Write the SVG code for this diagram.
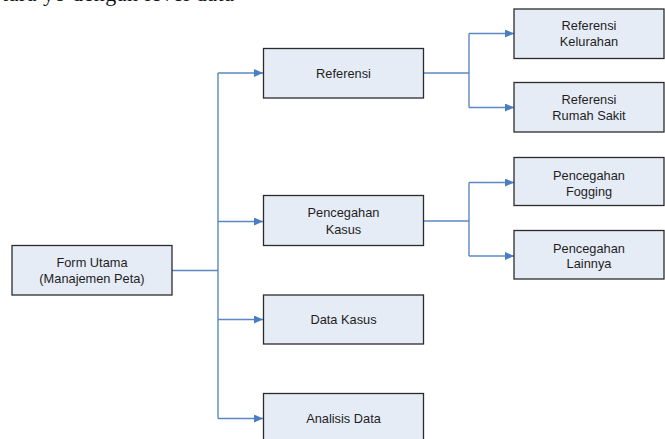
<svg xmlns="http://www.w3.org/2000/svg" width="665" height="439" viewBox="0 0 665 439">
  <defs>
    <marker id="arr" markerWidth="9" markerHeight="8" refX="9" refY="4" orient="auto" markerUnits="userSpaceOnUse">
      <path d="M0,0 L9,4 L0,8 Z" fill="#4A7EC2"/>
    </marker>
    <style>
      .box { fill: #E6ECF6; stroke: #2B2B2B; stroke-width: 1.3; }
      .lbl { font-family: "Liberation Sans", Arial, sans-serif; font-size: 12.8px; fill: #1E1E1E; text-anchor: middle; }
      .con { fill: none; stroke: #5B88C4; stroke-width: 1.4; }
      .top { font-family: "Liberation Serif", "Times New Roman", serif; font-size: 22px; fill: #111; }
    </style>
  </defs>
  <rect width="665" height="439" fill="#FFFFFF"/>
  <text class="top" x="2" y="1" textLength="232" lengthAdjust="spacing">tara yo dengan level data</text>

  <g id="connectors">
    <path class="con" d="M172,270.5 H218"/>
    <path class="con" d="M218,73 V418.5"/>
    <path class="con" d="M218,73 H263" marker-end="url(#arr)"/>
    <path class="con" d="M218,221.5 H263" marker-end="url(#arr)"/>
    <path class="con" d="M218,319.5 H263" marker-end="url(#arr)"/>
    <path class="con" d="M218,418.5 H263" marker-end="url(#arr)"/>
    <path class="con" d="M423.5,73 H469"/>
    <path class="con" d="M469,33.5 V107.5"/>
    <path class="con" d="M469,33.5 H514" marker-end="url(#arr)"/>
    <path class="con" d="M469,107.5 H514" marker-end="url(#arr)"/>
    <path class="con" d="M423.5,221 H469"/>
    <path class="con" d="M469,182.5 V256"/>
    <path class="con" d="M469,182.5 H514" marker-end="url(#arr)"/>
    <path class="con" d="M469,256 H514" marker-end="url(#arr)"/>
  </g>

  <g id="form-utama">
    <rect class="box" x="12" y="245.5" width="160" height="49.5"/>
    <text class="lbl" x="92" y="266.5">Form Utama</text>
    <text class="lbl" x="92" y="282.5">(Manajemen Peta)</text>
  </g>
  <g id="referensi">
    <rect class="box" x="263.5" y="48.5" width="160" height="49.5"/>
    <text class="lbl" x="343.5" y="77.5">Referensi</text>
  </g>
  <g id="pencegahan-kasus">
    <rect class="box" x="263.5" y="195.5" width="160" height="50"/>
    <text class="lbl" x="343.5" y="216.5">Pencegahan</text>
    <text class="lbl" x="343.5" y="233.5">Kasus</text>
  </g>
  <g id="data-kasus">
    <rect class="box" x="263.5" y="295" width="160" height="49"/>
    <text class="lbl" x="343.5" y="324">Data Kasus</text>
  </g>
  <g id="analisis-data">
    <rect class="box" x="263.5" y="393.5" width="160" height="50"/>
    <text class="lbl" x="343.5" y="423">Analisis Data</text>
  </g>
  <g id="referensi-kelurahan">
    <rect class="box" x="514" y="9" width="150" height="49.5"/>
    <text class="lbl" x="589" y="29.5">Referensi</text>
    <text class="lbl" x="589" y="46">Kelurahan</text>
  </g>
  <g id="referensi-rumah-sakit">
    <rect class="box" x="514" y="82.5" width="150" height="49.5"/>
    <text class="lbl" x="589" y="104">Referensi</text>
    <text class="lbl" x="589" y="120">Rumah Sakit</text>
  </g>
  <g id="pencegahan-fogging">
    <rect class="box" x="514" y="157.5" width="150" height="48"/>
    <text class="lbl" x="589" y="180">Pencegahan</text>
    <text class="lbl" x="589" y="195.5">Fogging</text>
  </g>
  <g id="pencegahan-lainnya">
    <rect class="box" x="514" y="230.5" width="150" height="48.5"/>
    <text class="lbl" x="589" y="252.5">Pencegahan</text>
    <text class="lbl" x="589" y="267.5">Lainnya</text>
  </g>
</svg>
